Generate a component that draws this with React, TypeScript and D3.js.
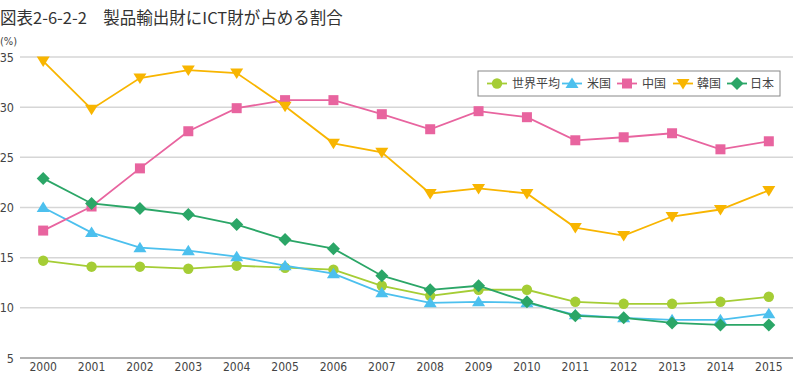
import React from "react";
import * as d3 from "d3";

const years = ["2000","2001","2002","2003","2004","2005","2006","2007","2008","2009","2010","2011","2012","2013","2014","2015"];
const world = [14.7,14.1,14.1,13.9,14.2,14.0,13.8,12.2,11.2,11.8,11.8,10.6,10.4,10.4,10.6,11.1];
const usa = [20.0,17.5,16.0,15.7,15.1,14.2,13.4,11.5,10.5,10.6,10.5,9.3,9.0,8.8,8.8,9.4];
const china = [17.7,20.1,23.9,27.6,29.9,30.7,30.7,29.3,27.8,29.6,29.0,26.7,27.0,27.4,25.8,26.6];
const korea = [34.6,29.8,32.9,33.7,33.4,30.1,26.4,25.5,21.4,21.9,21.4,18.0,17.2,19.1,19.8,21.7];
const japan = [22.9,20.4,19.9,19.3,18.3,16.8,15.9,13.2,11.8,12.2,10.6,9.2,9.0,8.5,8.3,8.3];
const yTicks = [5,10,15,20,25,30,35];

const seriesNames = ["世界平均","米国","中国","韓国","日本"];
const seriesColors = ["#a5cd35","#4cc0ee","#e8649f","#f8b500","#2ba667"];
const seriesShapes = ["circle","triangle","square","triangleDown","diamond"];
const seriesData = [world, usa, china, korea, japan];

const W = 800, H = 375;
const CJK = "'Noto Sans CJK JP', 'Noto Sans', sans-serif";
const NUM = "'DejaVu Sans Condensed', 'Liberation Sans Narrow', 'Open Sans', sans-serif";

function Marker({ shape, x, y, color }: { shape: string; x: number; y: number; color: string }) {
  if (shape === "circle") return <circle cx={x} cy={y} r={5.2} fill={color} />;
  if (shape === "square") return <rect x={x - 5} y={y - 5} width={10} height={10} fill={color} />;
  if (shape === "diamond") return <path d={`M${x},${y - 6.5}L${x + 6.5},${y}L${x},${y + 6.5}L${x - 6.5},${y}Z`} fill={color} />;
  if (shape === "triangle") return <path d={`M${x},${y - 6}L${x + 6.5},${y + 4.5}L${x - 6.5},${y + 4.5}Z`} fill={color} />;
  return <path d={`M${x},${y + 6}L${x + 6.5},${y - 4.5}L${x - 6.5},${y - 4.5}Z`} fill={color} />;
}

export default function App() {
  const x = d3.scalePoint<string>().domain(years).range([19, 793]).padding(0.5);
  const y = d3.scaleLinear().domain([5, 35]).range([358, 57]);
  const line = d3.line<number>().x((_, i) => x(years[i]) as number).y((d) => y(d));

  const legendX = 478, legendY = 71;
  const legendItems = [
    { lx: 487, tx: 512 },
    { lx: 562, tx: 587 },
    { lx: 617, tx: 642 },
    { lx: 673, tx: 697 },
    { lx: 727, tx: 750 },
  ];

  return (
    <svg width={W} height={H} style={{ position: "absolute", left: 0, top: 0, background: "#fff" }}>
      <text x={0} y={24} fontFamily={CJK} fontSize={16.5} fill="#333">図表2-6-2-2　製品輸出財にICT財が占める割合</text>
      <text x={0} y={45} fontFamily={NUM} fontSize={11} fill="#444">(%)</text>
      {yTicks.map((t) => (
        <g key={t}>
          <line x1={20} x2={793} y1={y(t)} y2={y(t)} stroke={t === 5 ? "#999" : "#d6d6d6"} strokeWidth={1.5} />
          <text x={14} y={y(t) + 4.5} textAnchor="end" fontFamily={NUM} fontSize={12.5} fill="#444">{t}</text>
        </g>
      ))}
      {years.map((yr) => (
        <text key={yr} x={x(yr)} y={371} textAnchor="middle" fontFamily={NUM} fontSize={12} fill="#444">{yr}</text>
      ))}
      {seriesData.map((data, si) => (
        <g key={si}>
          <path d={line(data) || ""} fill="none" stroke={seriesColors[si]} strokeWidth={1.8} />
          {data.map((v, i) => (
            <Marker key={i} shape={seriesShapes[si]} x={x(years[i]) as number} y={y(v)} color={seriesColors[si]} />
          ))}
        </g>
      ))}
      <rect x={legendX} y={legendY} width={302} height={25} fill="#fff" stroke="#888" strokeWidth={1} />
      {legendItems.map((it, i) => (
        <g key={i}>
          <line x1={it.lx} x2={it.lx + 20} y1={legendY + 12.5} y2={legendY + 12.5} stroke={seriesColors[i]} strokeWidth={1.8} />
          <Marker shape={seriesShapes[i]} x={it.lx + 10} y={legendY + 12.5} color={seriesColors[i]} />
          <text x={it.tx} y={legendY + 17} fontFamily={CJK} fontSize={12} fill="#444">{seriesNames[i]}</text>
        </g>
      ))}
    </svg>
  );
}
